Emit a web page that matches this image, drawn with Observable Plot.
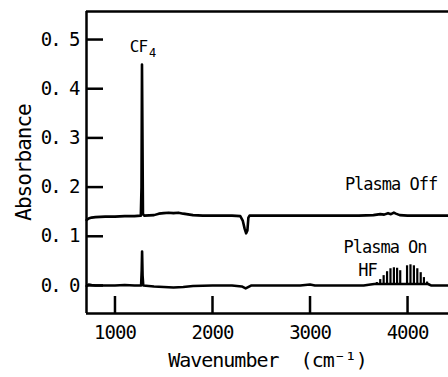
<!DOCTYPE html>
<html><head><meta charset="utf-8">
<script src="https://cdn.jsdelivr.net/npm/d3@7"></script>
<script src="https://cdn.jsdelivr.net/npm/@observablehq/plot@0.6"></script>
<style>
body{margin:0;background:#fff;}
.chart text{letter-spacing:-1px;}
.chart g[aria-label="y-axis tick label"] text{letter-spacing:-2px;}
</style></head><body><div id="chart"></div>
<script>
// Plasma Off spectrum
const offX = [710, 730, 760, 800, 900, 1000, 1100, 1200, 1265, 1272, 1277, 1282, 1287, 1300, 1400, 1450, 1500, 1550, 1600, 1650, 1700, 1800, 1900, 2000, 2200, 2285, 2310, 2330, 2345, 2358, 2368, 2380, 2500, 3000, 3500, 3650, 3720, 3760, 3800, 3830, 3860, 3880, 3920, 4000, 4420];
const offY = [0.133, 0.136, 0.138, 0.139, 0.140, 0.140, 0.141, 0.141, 0.142, 0.20, 0.449, 0.30, 0.145, 0.142, 0.143, 0.146, 0.147, 0.148, 0.147, 0.148, 0.146, 0.143, 0.142, 0.142, 0.142, 0.141, 0.132, 0.115, 0.106, 0.112, 0.138, 0.142, 0.142, 0.142, 0.142, 0.143, 0.145, 0.144, 0.147, 0.145, 0.148, 0.146, 0.143, 0.142, 0.142];
// Plasma On spectrum (baseline)
const onX = [710, 730, 760, 800, 900, 1000, 1100, 1200, 1268, 1274, 1278, 1283, 1290, 1400, 1500, 1600, 1700, 1800, 2000, 2200, 2300, 2340, 2370, 2400, 2600, 2900, 3000, 3050, 3300, 3550, 3620, 3660, 3700, 3950, 4210, 4240, 4420];
const onY = [-0.001, 0.002, 0.001, 0.000, 0.000, 0.000, 0.001, 0.000, 0.000, 0.030, 0.069, 0.020, 0.000, -0.002, -0.003, -0.004, -0.003, -0.001, 0.000, 0.000, -0.002, -0.006, -0.003, 0.000, 0.000, 0.000, 0.002, 0.000, 0.000, 0.000, 0.002, 0.003, 0.003, 0.003, 0.003, 0.000, 0.000];
// HF rotational lines (Plasma On)
const hfX = [3685, 3720, 3755, 3790, 3825, 3860, 3893, 3925, 3995, 4030, 4065, 4100, 4135, 4168, 4200];
const hfY = [0.006, 0.012, 0.020, 0.028, 0.034, 0.036, 0.035, 0.030, 0.040, 0.042, 0.040, 0.034, 0.026, 0.016, 0.007];

const yTicks = [0, 0.1, 0.2, 0.3, 0.4, 0.5];
const yTickLabels = ["0. 0", "0. 1", "0. 2", "0. 3", "0. 4", "0. 5"];
const xTicks = [1000, 2000, 3000, 4000];
const xTickLabels = ["1000", "2000", "3000", "4000"];
const xDomain = [708, 4420];
const yDomain = [-0.057, 0.557];
const xTitle = "Wavenumber  (cm⁻¹)";
const yTitle = "Absorbance";

const bigNotes = ["Plasma Off", "Plasma On", "HF"];
const bigNoteX = [3831, 3769, 3590];
const bigNoteY = [0.205, 0.077, 0.030];
const cfText = ["CF"], cfX = [1241], cfY = [0.486];
const subText = ["4"], subX = [1382], subY = [0.473];

const offData = offX.map((x, i) => ({x, y: offY[i]}));
const onData = onX.map((x, i) => ({x, y: onY[i]}));
const hfData = hfX.map((x, i) => ({x, y: hfY[i]}));
const yLab = new Map(yTicks.map((t, i) => [t, yTickLabels[i]]));
const xLab = new Map(xTicks.map((t, i) => [t, xTickLabels[i]]));
const mk = (t, xs, ys) => t.map((s, i) => ({s, x: xs[i], y: ys[i]}));

const font = "DejaVu Sans Mono";
const chart = Plot.plot({
  width: 448, height: 377,
  marginLeft: 86, marginRight: 0, marginTop: 11, marginBottom: 64,
  className: "chart",
  style: {fontFamily: font, fontSize: "19px", color: "black", background: "white"},
  x: {domain: xDomain},
  y: {domain: yDomain},
  marks: [
    Plot.ruleX([xDomain[0]], {stroke: "black", strokeWidth: 2.5}),
    Plot.ruleY(yDomain, {stroke: "black", strokeWidth: 2.5}),
    Plot.axisY(yTicks, {anchor: "left", tickSize: -17, strokeWidth: 2.5, tickFormat: () => "", label: null}),
    Plot.axisY(yTicks, {anchor: "left", tickSize: 0, tickPadding: 8, tickFormat: d => yLab.get(d), fontSize: 19, label: null}),
    Plot.axisX(xTicks, {anchor: "bottom", tickSize: -17, strokeWidth: 2.5, tickFormat: () => "", label: null}),
    Plot.axisX(xTicks, {anchor: "bottom", tickSize: 0, tickPadding: 12, tickFormat: d => xLab.get(d), fontSize: 19, label: null}),
    Plot.text([yTitle], {frameAnchor: "left", dx: -62, rotate: -90, textAnchor: "middle", lineAnchor: "middle", fontSize: 21, fill: "black"}),
    Plot.text([xTitle], {frameAnchor: "bottom", dy: 47, textAnchor: "middle", lineAnchor: "middle", fontSize: 20, fill: "black"}),
    Plot.line(offData, {x: "x", y: "y", stroke: "black", strokeWidth: 2.6}),
    Plot.line(onData, {x: "x", y: "y", stroke: "black", strokeWidth: 2.6}),
    Plot.ruleX(hfData, {x: "x", y1: 0, y2: "y", stroke: "black", strokeWidth: 2.2}),
    Plot.text(mk(bigNotes, bigNoteX, bigNoteY), {x: "x", y: "y", text: "s", fontSize: 17, fill: "black"}),
    Plot.text(mk(cfText, cfX, cfY), {x: "x", y: "y", text: "s", fontSize: 16, fill: "black"}),
    Plot.text(mk(subText, subX, subY), {x: "x", y: "y", text: "s", fontSize: 12, fill: "black"})
  ]
});
document.getElementById("chart").append(chart);
</script></body></html>
